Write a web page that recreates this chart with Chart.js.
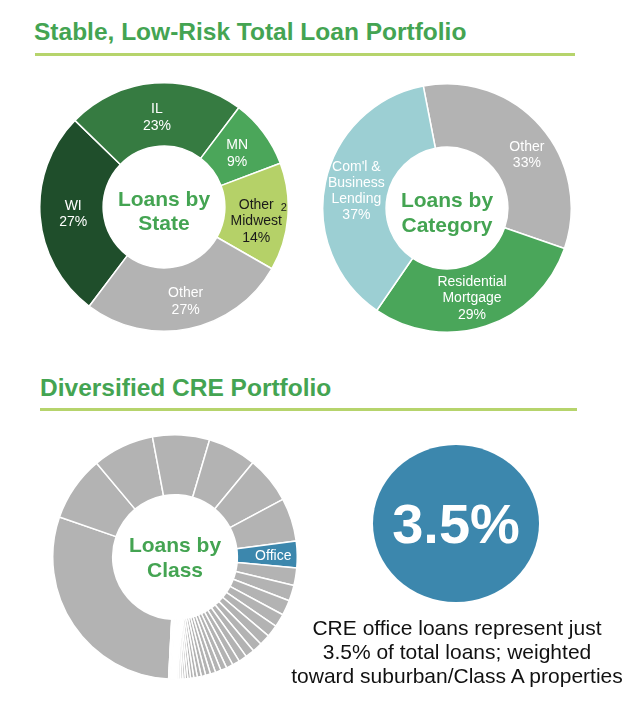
<!DOCTYPE html>
<html>
<head>
<meta charset="utf-8">
<script src="https://cdn.jsdelivr.net/npm/chart.js@4.4.1/dist/chart.umd.min.js"></script>
<style>
  html, body { margin: 0; padding: 0; background: #fff; }
  body { width: 640px; height: 709px; position: relative; overflow: hidden; font-family: "Liberation Sans", Arial, sans-serif; }
  .title { position: absolute; font-weight: bold; font-size: 24.5px; line-height: 28px; color: #44a452; white-space: nowrap; }
  .rule { position: absolute; height: 3px; background: #b6d46c; }
  .box { position: absolute; }
  #bubble { position: absolute; left: 373px; top: 445px; width: 166px; height: 157px; border-radius: 50%; background: #3c87ad;
            display: flex; align-items: center; justify-content: center; color: #fff; font-weight: bold; font-size: 56px; }
  #note { position: absolute; left: 277px; top: 616px; width: 360px; text-align: center; font-size: 21px; line-height: 24px; color: #111; }
</style>
</head>
<body>
<div class="title" style="left:34px; top:18px;">Stable, Low-Risk Total Loan Portfolio</div>
<div class="rule" style="left:35px; top:53px; width:540px;"></div>
<div class="box" style="left:39px; top:82px;"><canvas id="c1" width="250" height="250"></canvas></div>
<div class="box" style="left:322px; top:83px;"><canvas id="c2" width="250" height="250"></canvas></div>
<div class="title" style="left:40px; top:374px;">Diversified CRE Portfolio</div>
<div class="rule" style="left:40px; top:408px; width:537px;"></div>
<div class="box" style="left:52px; top:434px;"><canvas id="c3" width="246" height="246"></canvas></div>
<div id="bubble"><span id="bubbleText"></span></div>
<div id="note">CRE office loans represent just<br>3.5% of total loans; weighted<br>toward suburban/Class A properties</div>
<script>
// ---------- data ----------
const stateLabels = ['WI', 'IL', 'MN', ['Other', 'Midwest'], 'Other'];
const stateValues = [27, 23, 9, 14, 27];
const stateColors = ['#1f4e2b', '#367b41', '#4ba65a', '#b5d168', '#b3b3b3'];

const categoryLabels = ['Other', ['Residential', 'Mortgage'], ["Com'l &", 'Business', 'Lending']];
const categoryValues = [33, 29, 37];
const categoryColors = ['#b3b3b3', '#4aa65a', '#9ccfd3'];

const classLabels = ['CRE class 1', 'CRE class 2', 'CRE class 3', 'CRE class 4', 'CRE class 5', 'CRE class 6', 'CRE class 7', 'Office',
  'CRE class 9', 'CRE class 10', 'CRE class 11', 'CRE class 12', 'CRE class 13', 'CRE class 14', 'CRE class 15', 'CRE class 16',
  'CRE class 17', 'CRE class 18', 'CRE class 19', 'CRE class 20', 'CRE class 21', 'CRE class 22', 'CRE class 23', 'CRE class 24',
  'CRE class 25', 'CRE class 26', 'CRE class 27', 'CRE class 28', 'CRE class 29', 'CRE class 30', 'CRE class 31', 'CRE class 32',
  'CRE class 33', 'CRE class 34', 'CRE class 35', 'CRE class 36', 'CRE class 37', 'CRE class 38', 'CRE class 39', 'CRE class 40',
  'CRE class 41', 'CRE class 42', 'CRE class 43', 'CRE class 44'];
const classValues = [29.4, 8.6, 8.1, 7.5, 6.4, 6.2, 5.7, 3.5,
  2.33, 2.06, 2.0, 1.75, 1.58, 1.44, 1.31, 1.19, 1.08, 0.97, 0.89, 0.81, 0.75, 0.69, 0.64, 0.58,
  0.53, 0.47, 0.42, 0.36, 0.33, 0.31, 0.28, 0.25, 0.22, 0.19, 0.17, 0.14, 0.12, 0.11, 0.10, 0.08,
  0.07, 0.06, 0.04, 0.03];
const officeShareOfTotal = 3.5;

document.getElementById('bubbleText').textContent = officeShareOfTotal + '%';

// ---------- plugins ----------
const sliceText = {
  id: 'sliceText',
  afterDatasetsDraw(chart, args, opts) {
    const ctx = chart.ctx;
    const meta = chart.getDatasetMeta(0);
    const labels = chart.data.labels;
    const values = chart.data.datasets[0].data;
    ctx.save();
    ctx.textAlign = 'center';
    ctx.textBaseline = 'middle';
    meta.data.forEach((arc, i) => {
      if (opts.show && !opts.show[i]) return;
      const p = arc.getProps(['x', 'y', 'startAngle', 'endAngle', 'innerRadius', 'outerRadius'], true);
      const mid = (p.startAngle + p.endAngle) / 2;
      const r = p.innerRadius + (p.outerRadius - p.innerRadius) * (opts.radius || 0.5);
      const off = (opts.offsets && opts.offsets[i]) || [0, 0];
      const cx = p.x + Math.cos(mid) * r + off[0];
      const cy = p.y + Math.sin(mid) * r + off[1];
      let lines = [].concat(labels[i]);
      if (opts.percent) lines = lines.concat(values[i] + '%');
      const lh = opts.lineHeight || 16;
      ctx.font = opts.font;
      ctx.fillStyle = (opts.colors && opts.colors[i]) || '#fff';
      const y0 = cy - (lines.length - 1) / 2 * lh;
      lines.forEach((t, k) => ctx.fillText(t, cx, y0 + k * lh));
      if (opts.footnotes && opts.footnotes[i]) {
        const w = ctx.measureText(lines[0]).width;
        ctx.font = opts.footFont;
        ctx.textAlign = 'left';
        ctx.fillText(opts.footnotes[i], cx + w / 2 + 7, y0 + 3);
        ctx.textAlign = 'center';
      }
    });
    ctx.restore();
  }
};

const centerText = {
  id: 'centerText',
  afterDraw(chart, args, opts) {
    const arc = chart.getDatasetMeta(0).data[0];
    if (!arc) return;
    const ctx = chart.ctx;
    ctx.save();
    ctx.font = opts.font;
    ctx.fillStyle = opts.color;
    ctx.textAlign = 'center';
    ctx.textBaseline = 'alphabetic';
    opts.lines.forEach((t, k) => ctx.fillText(t, arc.x, arc.y + opts.firstBaseline + k * opts.lineHeight));
    ctx.restore();
  }
};

function donut(id, labels, values, colors, rotation, cutout, borderWidth, sliceOpts, centerOpts) {
  return new Chart(document.getElementById(id), {
    type: 'doughnut',
    data: { labels: labels, datasets: [{ data: values, backgroundColor: colors, borderColor: '#ffffff', borderWidth: borderWidth, borderAlign: 'center' }] },
    options: {
      responsive: false,
      animation: false,
      rotation: rotation,
      cutout: cutout,
      layout: { padding: 0 },
      plugins: { legend: { display: false }, tooltip: { enabled: false }, sliceText: sliceOpts, centerText: centerOpts }
    },
    plugins: [sliceText, centerText]
  });
}

const labelFont = '14px "Liberation Sans", Arial, sans-serif';
const centerFont = 'bold 21px "Liberation Sans", Arial, sans-serif';
const green = '#44a452';

donut('c1', stateLabels, stateValues, stateColors, 217, '49%', 1.5,
  { font: labelFont, footFont: '11px "Liberation Sans", Arial, sans-serif', lineHeight: 16.5, percent: true,
    colors: ['#fff', '#fff', '#fff', '#1a1a1a', '#fff'],
    offsets: [[1.5, 0], [0, 3], [-1, 2], [0, 7], [3, 4]],
    footnotes: { 3: '2' } },
  { lines: ['Loans by', 'State'], font: centerFont, color: green, firstBaseline: -1, lineHeight: 23.5 });

donut('c2', categoryLabels, categoryValues, categoryColors, -11, '49%', 1.5,
  { font: labelFont, lineHeight: 16.3, percent: true, colors: ['#fff', '#fff', '#fff'],
    offsets: [[10, 8], [-4, 2.5], [0, 2]] },
  { lines: ['Loans by', 'Category'], font: centerFont, color: green, firstBaseline: -1, lineHeight: 25 });

const classColors = classValues.map((v, i) => classLabels[i] === 'Office' ? '#3c87ad' : '#b3b3b3');
const classShow = classLabels.map(l => l === 'Office');
donut('c3', classLabels, classValues, classColors, 183, '51%', 1.5,
  { font: labelFont, lineHeight: 16, percent: false, radius: 0.6, show: classShow, colors: classColors.map(() => '#fff'),
    offsets: classLabels.map(() => [0, 1]) },
  { lines: ['Loans by', 'Class'], font: centerFont, color: green, firstBaseline: -5, lineHeight: 25 });
</script>
</body>
</html>
